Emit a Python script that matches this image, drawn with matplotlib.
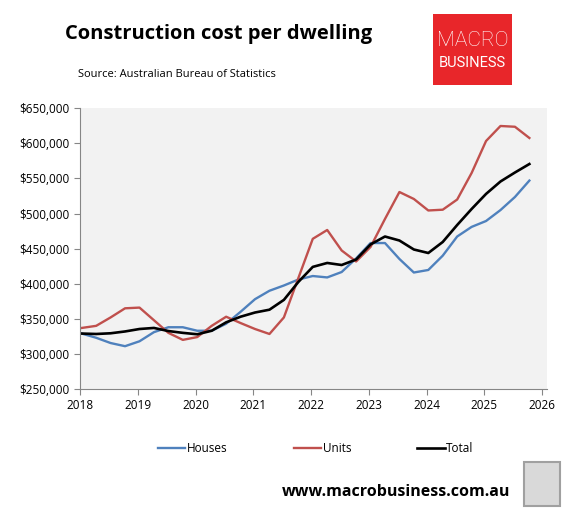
import numpy as np
import matplotlib
matplotlib.use("Agg")
import matplotlib.pyplot as plt
from matplotlib.patches import Rectangle

# quarterly values, $ thousands, Mar-2018 .. Dec-2025
quarters = 2018.03 + 0.25 * np.arange(32)
houses = [329, 323, 315.5, 311, 318, 331, 338, 338, 333, 333, 343, 360, 378, 390, 397.5, 406,
          411, 409, 416.7, 436, 458, 458, 435.3, 416, 419.6, 440, 467.3, 481, 489.4, 505, 523.6, 547]
units = [337, 340, 352, 365, 366, 348, 330, 320, 324, 340, 353, 344, 335.5, 328.4, 352, 408,
         464, 476.6, 447.4, 431.7, 452.4, 492.3, 530.7, 520.8, 504.4, 505.5, 520, 557.8, 603.4, 624.8, 623.7, 607.7]
total = [329, 328.4, 329.4, 332, 335.5, 337, 332.6, 330, 328, 333, 345, 353, 359, 363, 377, 402.5,
         424, 429.6, 426.7, 434.5, 456, 467.3, 461.6, 448.8, 443.8, 459.5, 483.7, 506.5, 528, 545.7, 558.5, 570.6]
series_names = ["Houses", "Units", "Total"]
series_colors = ["#4F81BD", "#C0504D", "#000000"]
year_ticks = list(range(2018, 2027))
value_ticks = list(range(250, 651, 50))

plt.rcParams['font.family'] = ['Open Sans', 'DejaVu Sans']

fig = plt.figure(figsize=(5.72, 5.15), dpi=100)
ax = fig.add_axes([80 / 572, 1 - 389 / 515, 466.7 / 572, 280.7 / 515])
ax.set_facecolor("#F2F2F2")

lines = []
for vals, name, col in zip([houses, units, total], series_names, series_colors):
    ln, = ax.plot(quarters, np.array(vals) * 1000, color=col, lw=1.7 if name != "Total" else 1.9,
                  label=name, solid_joinstyle="round")
    lines.append(ln)

ax.set_xlim(2018, 2026.08)
ax.set_ylim(250000, 650000)
ax.set_xticks(year_ticks)
ax.set_xticklabels([str(y) for y in year_ticks], fontsize=8.5)
ax.set_yticks([v * 1000 for v in value_ticks])
ax.set_yticklabels(["${:,}".format(v * 1000) for v in value_ticks], fontsize=8.5)
for s in ["top", "right"]:
    ax.spines[s].set_visible(False)
for s in ["left", "bottom"]:
    ax.spines[s].set_color("#868686")
ax.tick_params(axis="both", colors="#868686", labelcolor="black", length=4, direction="out")
ax.tick_params(axis="x", pad=3)

fig.legend(handles=lines, labels=series_names, loc="center", bbox_to_anchor=(316 / 572, 1 - 449 / 515),
           ncol=3, frameon=False, fontsize=8.5, handlelength=2.3, handletextpad=0.15, columnspacing=5.6)

fig.text(65 / 572, 1 - 34 / 515, "Construction cost per dwelling", fontsize=14.5, fontweight="bold",
         va="center", ha="left")
fig.text(78 / 572, 1 - 75 / 515, "Source: Australian Bureau of Statistics", fontsize=8,
         va="center", ha="left")

# logo box
fig.patches.append(Rectangle((433 / 572, 1 - 85 / 515), 79 / 572, 71 / 515, transform=fig.transFigure,
                             facecolor="#E8262A", edgecolor="none"))
fig.text(472.5 / 572, 1 - 40 / 515, "MACRO", fontsize=15, color="white", ha="center", va="center",
         family=["Roboto", "DejaVu Sans"], fontweight="light", stretch="condensed")
fig.text(472.5 / 572, 1 - 63 / 515, "BUSINESS", fontsize=10.5, color="white", ha="center", va="center",
         family=["Roboto", "DejaVu Sans"])

fig.text(510 / 572, 1 - 492 / 515, "www.macrobusiness.com.au", fontsize=11.5, fontweight="bold",
         ha="right", va="center")
fig.patches.append(Rectangle((524 / 572, 1 - 506 / 515), 36 / 572, 44 / 515, transform=fig.transFigure,
                             facecolor="#D9D9D9", edgecolor="#A0A0A0", lw=1.5))

fig.savefig("out.png", dpi=100)
